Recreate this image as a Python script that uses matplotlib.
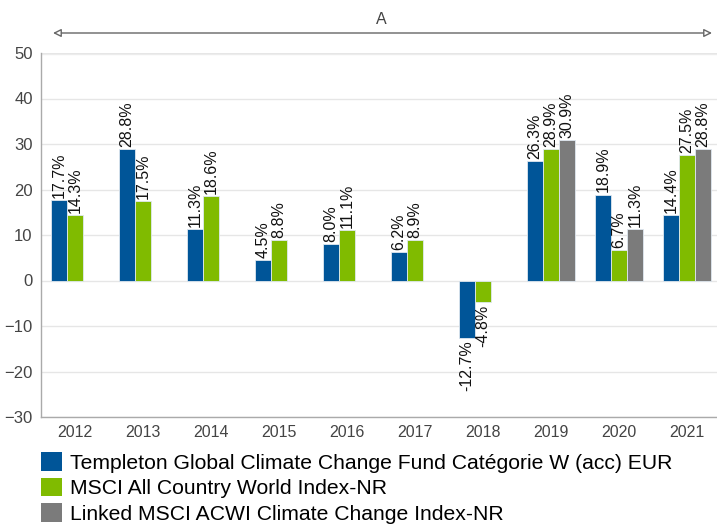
import numpy as np
import matplotlib.pyplot as plt
from matplotlib.patches import Patch

years = ['2012', '2013', '2014', '2015', '2016', '2017', '2018', '2019', '2020', '2021']
fund = [17.7, 28.8, 11.3, 4.5, 8.0, 6.2, -12.7, 26.3, 18.9, 14.4]
msci_acwi = [14.3, 17.5, 18.6, 8.8, 11.1, 8.9, -4.8, 28.9, 6.7, 27.5]
climate_idx = [None, None, None, None, None, None, None, 30.9, 11.3, 28.8]

series_names = ['Templeton Global Climate Change Fund Catégorie W (acc) EUR',
                'MSCI All Country World Index-NR',
                'Linked MSCI ACWI Climate Change Index-NR']
colors = ['#005598', '#80bb00', '#7b7b7b']

plt.rcParams['font.family'] = ['Liberation Sans', 'DejaVu Sans']

fig = plt.figure(figsize=(7.17, 5.25), dpi=100)
ax = fig.add_axes([41 / 717, 1 - 417 / 525, 680 / 717, 364 / 525])

x = np.arange(len(years))
slot = 0.235
for i, vals in enumerate([fund, msci_acwi, climate_idx]):
    offs = (i - 1) * slot
    for xi, v in zip(x, vals):
        if v is None:
            continue
        ax.bar(xi + offs, v, width=slot - 0.012, color=colors[i],
               edgecolor='#dfe8f0', linewidth=0.6, zorder=3)
        if v >= 0:
            ax.text(xi + offs, v + 0.5, f'{v:.1f}%', rotation=90, ha='center',
                    va='bottom', fontsize=11.5, color='#111111', zorder=4)
        else:
            ax.text(xi + offs, v - 0.5, f'{v:.1f}%', rotation=90, ha='center',
                    va='top', fontsize=11.5, color='#111111', zorder=4)

ax.set_xlim(-0.5, 9.5)
ax.set_ylim(-30, 50)
ax.set_yticks(range(-30, 51, 10))
ax.set_xticks(x)
ax.set_xticklabels(years)
ax.tick_params(axis='both', length=0, colors='#444444')
ax.tick_params(axis='y', pad=6, labelsize=12)
ax.tick_params(axis='x', pad=6, labelsize=11.5)
ax.grid(axis='y', color='#e6e6e6', linewidth=1, zorder=0)
for s in ['top', 'right']:
    ax.spines[s].set_visible(False)
for s in ['left', 'bottom']:
    ax.spines[s].set_color('#aaaaaa')
    ax.spines[s].set_linewidth(1)
ax.axhline(50, color='#eeeeee', linewidth=2.5, zorder=1)

# range arrow on top
ax.annotate('', xy=(712 / 717, 1 - 33 / 525), xytext=(53 / 717, 1 - 33 / 525),
            xycoords='figure fraction', textcoords='figure fraction',
            arrowprops=dict(arrowstyle='<|-|>', edgecolor='#666666', facecolor='white',
                            lw=1, mutation_scale=12, shrinkA=0, shrinkB=0))
fig.text(381 / 717, 1 - 20 / 525, 'A', ha='center', va='center', fontsize=11.5, color='#444444')

handles = [Patch(facecolor=c, edgecolor='none') for c in colors]
fig.legend(handles, series_names, loc='upper left', bbox_to_anchor=(41 / 717, 1 - 452 / 525),
           frameon=False, fontsize=15.2, handlelength=1.0, handleheight=1.0,
           handletextpad=0.38, labelspacing=0.23, borderaxespad=0, borderpad=0)

fig.savefig('out.png', dpi=100)
